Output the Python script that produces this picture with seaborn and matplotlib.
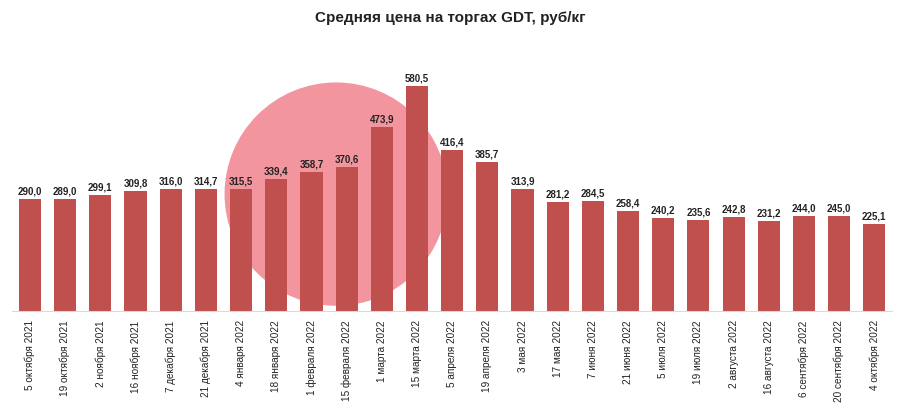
import matplotlib
matplotlib.use("Agg")
import matplotlib.pyplot as plt
from matplotlib.patches import Ellipse
import seaborn as sns
import pandas as pd

TITLE = "Средняя цена на торгах GDT, руб/кг"
DATES = ["5 октября 2021", "19 октября 2021", "2 ноября 2021", "16 ноября 2021",
         "7 декабря 2021", "21 декабря 2021", "4 января 2022", "18 января 2022",
         "1 февраля 2022", "15 февраля 2022", "1 марта 2022", "15 марта 2022",
         "5 апреля 2022", "19 апреля 2022", "3 мая 2022", "17 мая 2022",
         "7 июня 2022", "21 июня 2022", "5 июля 2022", "19 июля 2022",
         "2 августа 2022", "16 августа 2022", "6 сентября 2022", "20 сентября 2022",
         "4 октября 2022"]
PRICES = [290.0, 289.0, 299.1, 309.8, 316.0, 314.7, 315.5, 339.4, 358.7, 370.6,
          473.9, 580.5, 416.4, 385.7, 313.9, 281.2, 284.5, 258.4, 240.2, 235.6,
          242.8, 231.2, 244.0, 245.0, 225.1]

BAR_COLOR = "#C0504D"
LOGO_COLOR = "#F2959E"

df = pd.DataFrame({"date": DATES, "price": PRICES})

sns.set_style("white")
plt.rcParams["font.family"] = ["Liberation Sans", "DejaVu Sans"]

fig = plt.figure(figsize=(9, 4.06), dpi=100)
ax = fig.add_axes([0.0138, 0.2315, 0.9772, 0.6205])

# watermark circle behind the bars
logo = Ellipse((0.368, 0.464), 0.252, 0.881, transform=ax.transAxes,
               color=LOGO_COLOR, zorder=0, clip_on=False)
ax.add_patch(logo)

sns.barplot(data=df, x="date", y="price", color=BAR_COLOR, saturation=1,
            width=0.63, linewidth=0, edgecolor="none", ax=ax, zorder=2)

for i, v in enumerate(PRICES):
    ax.text(i, v + 9, f"{v:.1f}".replace(".", ","), ha="center", va="bottom",
            fontsize=7, fontweight="bold", color="#222222", zorder=3)

ax.set_ylim(0, 650)
ax.set_xlim(-0.5, len(DATES) - 0.5)
ax.set_yticks([])
ax.set_xlabel("")
ax.set_ylabel("")
ax.tick_params(axis="x", length=0, pad=6)
ax.set_xticks(range(len(DATES)))
ax.set_xticklabels(DATES, rotation=90, fontsize=7.2, color="#222222")
for s in ["top", "left", "right"]:
    ax.spines[s].set_visible(False)
ax.spines["bottom"].set_color("#D9D9D9")
ax.patch.set_alpha(0)

fig.text(0.5, 0.955, TITLE, ha="center", va="center", fontsize=11,
         fontweight="bold", color="#222222")

fig.savefig("out.png", dpi=100)
